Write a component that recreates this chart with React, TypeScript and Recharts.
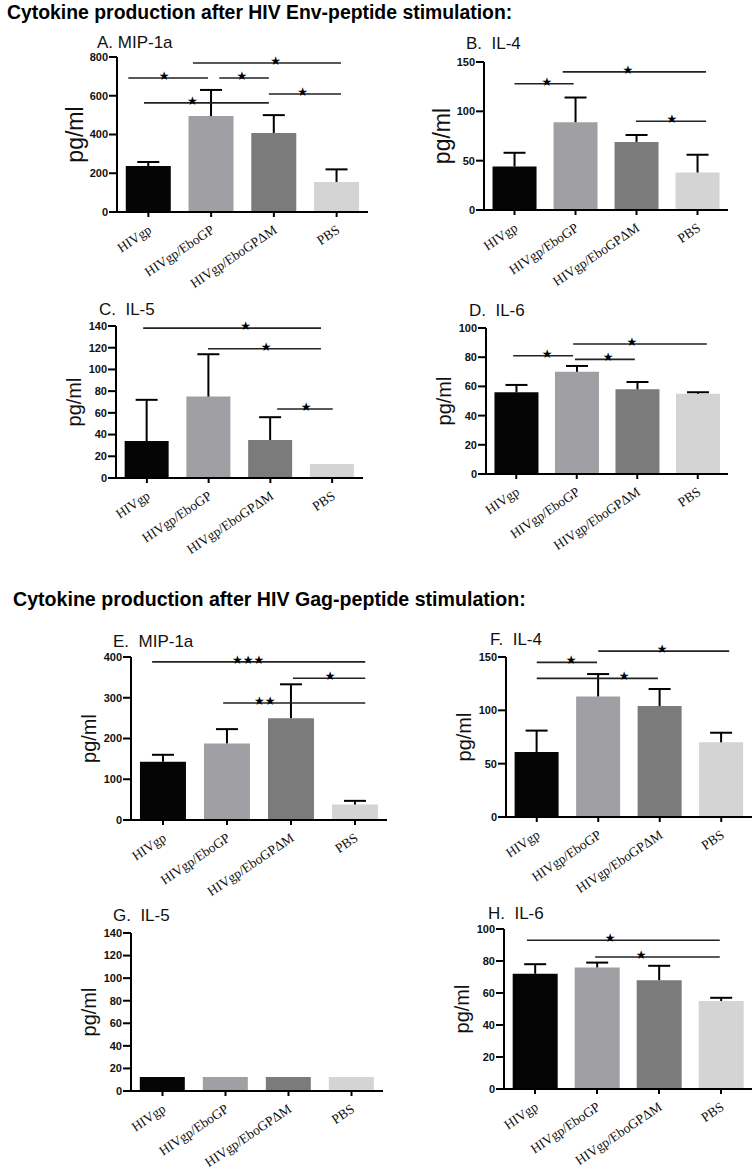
import React from "react";
import {
  BarChart,
  Bar,
  XAxis,
  YAxis,
  ErrorBar,
  Cell,
  ReferenceLine,
  ReferenceDot,
} from "recharts";

const CATEGORIES = ["HIVgp", "HIVgp/EboGP", "HIVgp/EboGPΔM", "PBS"];
const BAR_COLORS = ["#050505", "#a0a0a4", "#7b7b7b", "#d4d4d4"];

// Env-peptide stimulation (mean, upper error)
const ENV_MIP1A = [237, 495, 408, 155];
const ENV_MIP1A_ERR = [21, 135, 92, 65];
const ENV_IL4 = [44, 89, 69, 38];
const ENV_IL4_ERR = [14, 25, 7, 18];
const ENV_IL5 = [34, 75, 35, 13];
const ENV_IL5_ERR = [38, 39, 21, 0];
const ENV_IL6 = [56, 70, 58, 55];
const ENV_IL6_ERR = [5, 4, 5, 1];

// Gag-peptide stimulation
const GAG_MIP1A = [143, 188, 250, 38];
const GAG_MIP1A_ERR = [17, 35, 83, 9];
const GAG_IL4 = [61, 113, 104, 70];
const GAG_IL4_ERR = [20, 21, 16, 9];
const GAG_IL5 = [12.5, 12.5, 12.5, 12.5];
const GAG_IL5_ERR = [0, 0, 0, 0];
const GAG_IL6 = [72, 76, 68, 55];
const GAG_IL6_ERR = [6, 3, 9, 2];

const TICKS_800 = [0, 200, 400, 600, 800];
const TICKS_400 = [0, 100, 200, 300, 400];
const TICKS_150 = [0, 50, 100, 150];
const TICKS_140 = [0, 20, 40, 60, 80, 100, 120, 140];
const TICKS_100 = [0, 20, 40, 60, 80, 100];

// significance bars: [from, to, level, mark at, mark] (x in category index units)
type Sig = [number, number, number, number, string];
const SIG_ENV_MIP1A: Sig[] = [
  [0.71, 3.07, 769, 2.03, "★"],
  [-0.32, 0.95, 692, 0.25, "★"],
  [1.13, 1.92, 692, 1.49, "★"],
  [1.92, 3.07, 609, 2.46, "★"],
  [-0.07, 1.92, 563, 0.7, "★"],
];
const SIG_ENV_IL4: Sig[] = [
  [0.79, 3.14, 140, 1.86, "★"],
  [0.0, 0.97, 128, 0.53, "★"],
  [1.99, 3.14, 90, 2.58, "★"],
];
const SIG_ENV_IL5: Sig[] = [
  [-0.06, 2.82, 138, 1.6, "★"],
  [0.99, 2.82, 119, 1.93, "★"],
  [2.11, 3.01, 63.5, 2.58, "★"],
];
const SIG_ENV_IL6: Sig[] = [
  [0.94, 3.15, 89, 1.91, "★"],
  [-0.05, 0.94, 81, 0.51, "★"],
  [0.97, 1.96, 78.5, 1.52, "★"],
];
const SIG_GAG_MIP1A: Sig[] = [
  [-0.17, 3.16, 388, 1.33, "★★★"],
  [2.03, 3.16, 348, 2.61, "★"],
  [0.94, 3.16, 287, 1.59, "★★"],
];
const SIG_GAG_IL4: Sig[] = [
  [1.0, 3.13, 155.5, 2.04, "★"],
  [0.0, 0.98, 145, 0.56, "★"],
  [0.0, 1.97, 130, 1.42, "★"],
];
const SIG_GAG_IL5: Sig[] = [];
const SIG_GAG_IL6: Sig[] = [
  [-0.13, 2.98, 93, 1.21, "★"],
  [0.97, 2.98, 82.5, 1.71, "★"],
];

const SANS = "'Liberation Sans', Arial, sans-serif";
const SERIF = "'Liberation Serif', 'Times New Roman', serif";
const YW = 70;
const MT = 24;
const MR = 3;
const XH = 82;

const PANELS = [
  { title: "A. MIP-1a", values: ENV_MIP1A, errors: ENV_MIP1A_ERR, ticks: TICKS_800, sig: SIG_ENV_MIP1A,
    left: 117, right: 368, top: 57, bottom: 212, tx: 97, ty: 48, ls: 23 },
  { title: "B.  IL-4", values: ENV_IL4, errors: ENV_IL4_ERR, ticks: TICKS_150, sig: SIG_ENV_IL4,
    left: 484, right: 728, top: 62, bottom: 210, tx: 466, ty: 49, ls: 23 },
  { title: "C.  IL-5", values: ENV_IL5, errors: ENV_IL5_ERR, ticks: TICKS_140, sig: SIG_ENV_IL5,
    left: 116, right: 363, top: 326, bottom: 478, tx: 99, ty: 315, ls: 20 },
  { title: "D.  IL-6", values: ENV_IL6, errors: ENV_IL6_ERR, ticks: TICKS_100, sig: SIG_ENV_IL6,
    left: 486, right: 728, top: 328, bottom: 474, tx: 469, ty: 316, ls: 20 },
  { title: "E.  MIP-1a", values: GAG_MIP1A, errors: GAG_MIP1A_ERR, ticks: TICKS_400, sig: SIG_GAG_MIP1A,
    left: 131, right: 387, top: 657, bottom: 820, tx: 113, ty: 647, ls: 20 },
  { title: "F.  IL-4", values: GAG_IL4, errors: GAG_IL4_ERR, ticks: TICKS_150, sig: SIG_GAG_IL4,
    left: 506, right: 752, top: 657, bottom: 817, tx: 490, ty: 645, ls: 20 },
  { title: "G.  IL-5", values: GAG_IL5, errors: GAG_IL5_ERR, ticks: TICKS_140, sig: SIG_GAG_IL5,
    left: 131, right: 383, top: 933, bottom: 1091, tx: 113, ty: 921, ls: 20 },
  { title: "H.  IL-6", values: GAG_IL6, errors: GAG_IL6_ERR, ticks: TICKS_100, sig: SIG_GAG_IL6,
    left: 504, right: 752, top: 929, bottom: 1089, tx: 488, ty: 919, ls: 20 },
];

function CatTick(props: any) {
  const { x, y, payload } = props;
  const ax = x + 4;
  const ay = y + 13;
  return (
    <text
      x={ax}
      y={ay}
      transform={`rotate(-34 ${ax} ${ay})`}
      textAnchor="end"
      fontFamily={SERIF}
      fontSize={13.5}
      fill="#111"
    >
      {payload.value}
    </text>
  );
}

function Panel({ p }: { p: (typeof PANELS)[number] }) {
  const data = CATEGORIES.map((name, i) => ({
    name,
    idx: i,
    value: p.values[i],
    err: p.errors[i] > 0 ? [0, p.errors[i]] : null,
  }));
  const plotW = p.right - p.left;
  const plotH = p.bottom - p.top;
  const max = p.ticks[p.ticks.length - 1];
  const axisStyle = { stroke: "#000", strokeWidth: 2 };

  return (
    <div style={{ position: "absolute", left: p.left - YW, top: p.top - MT }}>
      <BarChart
        width={YW + plotW + MR}
        height={MT + plotH + XH}
        data={data}
        margin={{ top: MT, right: MR, left: 0, bottom: 0 }}
        barCategoryGap="14%"
      >
        <XAxis
          xAxisId="c"
          dataKey="name"
          interval={0}
          height={XH}
          tick={<CatTick />}
          tickSize={5}
          axisLine={axisStyle}
          tickLine={axisStyle}
        />
        <XAxis
          xAxisId="n"
          dataKey="idx"
          type="number"
          domain={[-0.5, 3.5]}
          allowDataOverflow
          hide
        />
        <YAxis
          width={YW}
          domain={[0, max]}
          ticks={p.ticks}
          interval={0}
          allowDataOverflow
          tickSize={8}
          tickMargin={1}
          axisLine={axisStyle}
          tickLine={axisStyle}
          tick={{ fontSize: 11, fontWeight: 700, fill: "#111", fontFamily: SANS }}
          label={{
            value: "pg/ml",
            angle: -90,
            position: "insideLeft",
            offset: YW - 42,
            style: { textAnchor: "middle", fontSize: p.ls, fontFamily: SANS, fill: "#111" },
          }}
        />
        <Bar xAxisId="c" dataKey="value" isAnimationActive={false}>
          {data.map((d, i) => (
            <Cell key={d.name} fill={BAR_COLORS[i]} />
          ))}
          <ErrorBar dataKey="err" direction="y" width={11} stroke="#000" strokeWidth={2} isAnimationActive={false} />
        </Bar>
        {p.sig.map(([a, b, y], i) => (
          <ReferenceLine
            key={"l" + i}
            xAxisId="n"
            segment={[{ x: a, y }, { x: b, y }]}
            stroke="#222"
            strokeWidth={1.6}
            ifOverflow="visible"
          />
        ))}
        {p.sig.map(([, , y, s, mark], i) => (
          <ReferenceDot
            key={"d" + i}
            xAxisId="n"
            x={s}
            y={y}
            r={0}
            ifOverflow="visible"
            shape={(props: any) => (
              <text
                x={props.cx}
                y={props.cy + 2}
                textAnchor="middle"
                fontSize={12}
                fill="#000"
                fontFamily="'DejaVu Sans', sans-serif"
              >
                {mark}
              </text>
            )}
          />
        ))}
      </BarChart>
    </div>
  );
}

export default function App() {
  return (
    <div
      style={{
        position: "absolute",
        left: 0,
        top: 0,
        width: 755,
        height: 1174,
        background: "#fff",
        overflow: "hidden",
      }}
    >
      <style>{".recharts-errorBar line:nth-of-type(3){display:none}"}</style>
      <svg width={755} height={1174} style={{ position: "absolute", left: 0, top: 0 }}>
        <text x={7} y={19} fontFamily={SANS} fontWeight={700} fontSize={19.4} fill="#000">
          Cytokine production after HIV Env-peptide stimulation:
        </text>
        <text x={13} y={606} fontFamily={SANS} fontWeight={700} fontSize={19.6} fill="#000">
          Cytokine production after HIV Gag-peptide stimulation:
        </text>
        {PANELS.map((p) => (
          <text key={p.title} x={p.tx} y={p.ty} fontFamily={SANS} fontSize={17} fill="#111" style={{ whiteSpace: "pre" }}>
            {p.title}
          </text>
        ))}
      </svg>
      {PANELS.map((p) => (
        <Panel key={p.title} p={p} />
      ))}
    </div>
  );
}
